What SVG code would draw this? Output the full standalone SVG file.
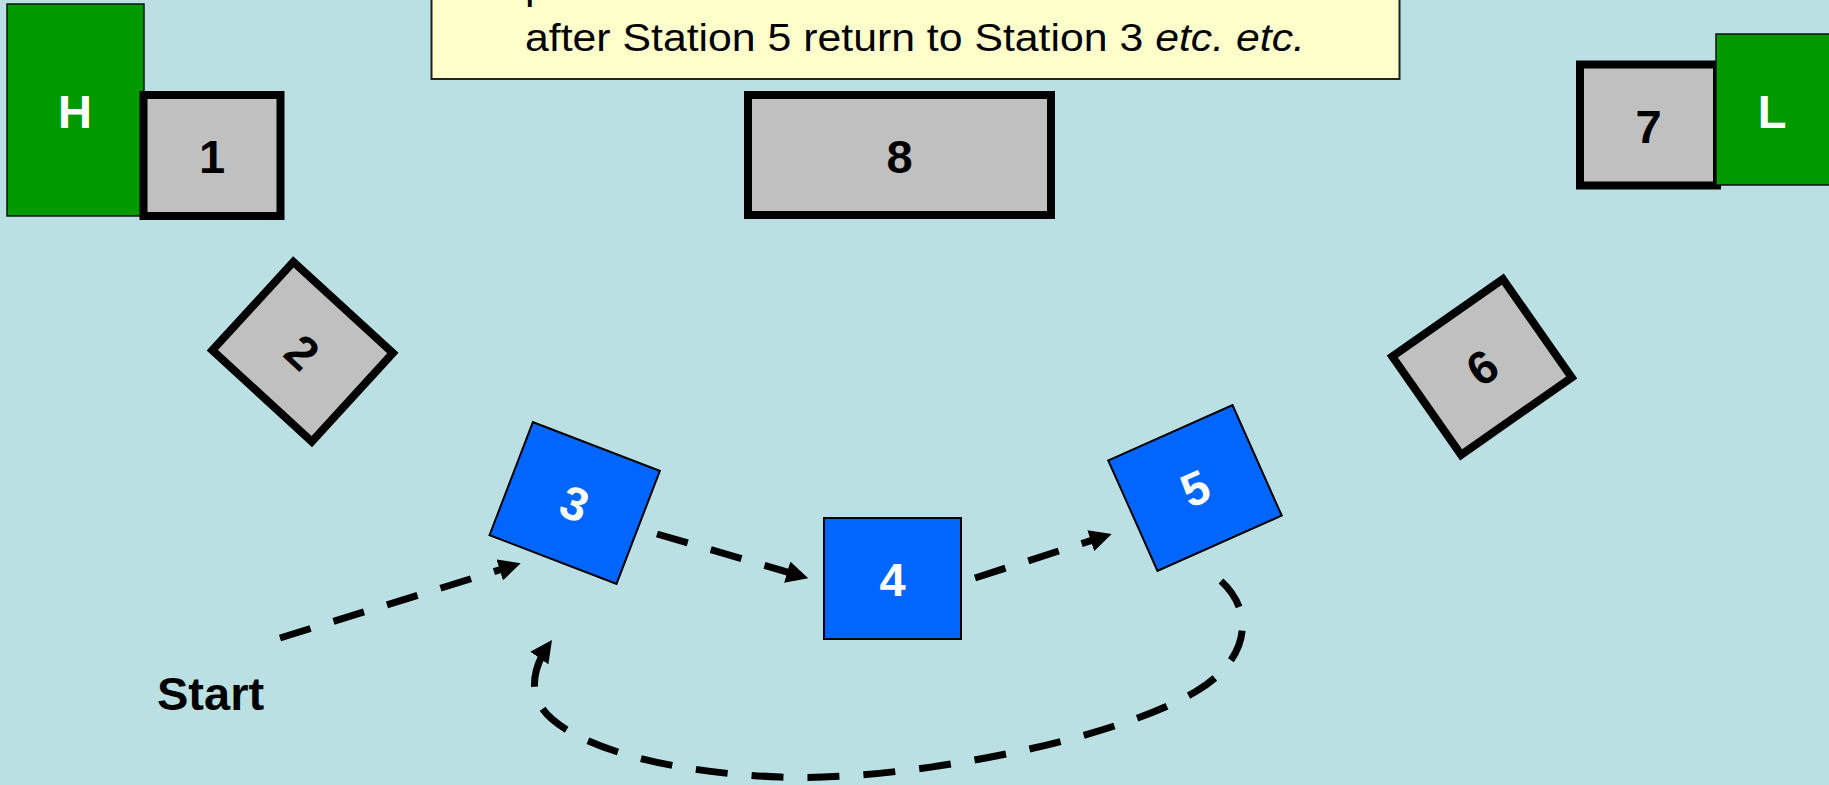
<svg xmlns="http://www.w3.org/2000/svg" width="1829" height="785" viewBox="0 0 1829 785">
  <defs>
    <style>
      .bg { fill: #BBE0E3; }
      .grey { fill: #C0C0C0; stroke: #000; stroke-width: 8; }
      .blue { fill: #0066FF; stroke: #000; stroke-width: 2; }
      .green { fill: #009900; stroke: #111; stroke-width: 1.5; }
      .lbl { font-family: "Liberation Sans", Arial, sans-serif; font-weight: bold; font-size: 47px; text-anchor: middle; }
      .dark { fill: #000; }
      .light { fill: #FFF; }
      .note { fill: #FFFFCC; stroke: #222; stroke-width: 2; }
      .notetext { font-family: "Liberation Sans", Arial, sans-serif; font-size: 38px; fill: #000; }
      .flow { fill: none; stroke: #000; stroke-width: 7; stroke-dasharray: 32 24; marker-end: url(#head); }
    </style>
    <marker id="head" markerUnits="userSpaceOnUse" markerWidth="22" markerHeight="22" viewBox="0 0 22 22" refX="14" refY="11" orient="auto">
      <path d="M0,0 L22,11 L0,22 z" fill="#000"/>
    </marker>
  </defs>

  <rect class="bg" x="0" y="0" width="1829" height="785"/>

  <!-- instruction note, running off the top edge -->
  <g id="note">
    <rect class="note" x="431.5" y="-60" width="968" height="139"/>
    <text class="notetext" transform="translate(525,0) scale(1.126,1)">
      <tspan x="0" y="-1">p</tspan>
      <tspan x="0" y="50.7">after Station 5 return to Station 3 <tspan font-style="italic">etc. etc.</tspan></tspan>
    </text>
  </g>

  <!-- end stands -->
  <g id="stand-H">
    <rect class="green" x="7" y="4" width="137" height="212"/>
    <text class="lbl light" x="75" y="128">H</text>
  </g>

  <g id="station-1">
    <rect class="grey" x="143.5" y="95" width="137" height="121"/>
    <text class="lbl dark" x="212" y="173">1</text>
  </g>

  <g id="station-8">
    <rect class="grey" x="748" y="95" width="303" height="120"/>
    <text class="lbl dark" x="899.5" y="172.5">8</text>
  </g>

  <g id="station-7">
    <rect class="grey" x="1580" y="64.5" width="137" height="121"/>
    <text class="lbl dark" x="1648.5" y="142.5">7</text>
  </g>

  <g id="stand-L">
    <rect class="green" x="1716" y="34" width="140" height="151"/>
    <text class="lbl light" x="1772" y="128">L</text>
  </g>

  <g id="station-2" transform="translate(302.6,351.7) rotate(42.5)">
    <rect class="grey" x="-67.5" y="-60" width="135" height="120"/>
    <text class="lbl dark" x="0" y="17">2</text>
  </g>

  <g id="station-6" transform="translate(1482,367) rotate(-35)">
    <rect class="grey" x="-67.5" y="-60" width="135" height="120"/>
    <text class="lbl dark" x="0" y="17">6</text>
  </g>

  <g id="station-3" transform="translate(574.7,503) rotate(21)">
    <rect class="blue" x="-68" y="-60.5" width="136" height="121"/>
    <text class="lbl light" x="0" y="17">3</text>
  </g>

  <g id="station-4">
    <rect class="blue" x="824" y="518" width="137" height="121"/>
    <text class="lbl light" x="892.5" y="595.5">4</text>
  </g>

  <g id="station-5" transform="translate(1195,488) rotate(-24)">
    <rect class="blue" x="-68" y="-60.5" width="136" height="121"/>
    <text class="lbl light" x="0" y="17">5</text>
  </g>

  <g id="start-label">
    <text class="lbl dark" x="157" y="710" style="text-anchor:start">Start</text>
  </g>

  <!-- dashed flow of the active stations -->
  <g id="connectors">
    <path class="flow" d="M280,638 L513.1,565.7"/>
    <path class="flow" d="M657,534 L800.6,576"/>
    <path class="flow" d="M975,578 L1104.1,536.4"/>
    <path class="flow" d="M1221,581 C1255,612 1250,660 1195,692 C1110,742 900,782 780,777 C650,772 560,740 540,705 C528,685 538,660 547.4,646.6"/>
  </g>
</svg>
